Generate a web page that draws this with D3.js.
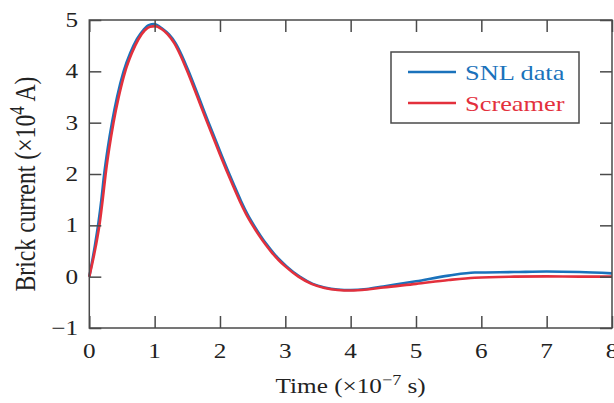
<!DOCTYPE html>
<html>
<head>
<meta charset="utf-8">
<script src="https://cdn.jsdelivr.net/npm/d3@7"></script>
<style>
  html, body { margin: 0; padding: 0; background: #fff; }
  svg { display: block; }
  text { font-family: "Liberation Serif", "Times New Roman", serif; fill: #222; }
</style>
</head>
<body>
<svg id="chart" width="614" height="403"></svg>
<script>
// Time axis in units of 1e-7 s, current in units of 1e4 A
const xTicks = [0, 1, 2, 3, 4, 5, 6, 7, 8];
const yTicks = [-1, 0, 1, 2, 3, 4, 5];

const snlTime = [0, 0.085, 0.14, 0.185, 0.228, 0.282, 0.347, 0.425, 0.525, 0.625, 0.73, 0.83, 0.91, 0.99,
  1.12, 1.22, 1.32, 1.42, 1.52, 1.62, 1.72, 1.82, 1.92, 2.02, 2.12, 2.22, 2.32, 2.42, 2.52, 2.62, 2.72,
  2.82, 2.92, 3.02, 3.22, 3.42, 3.6, 3.8, 4.0, 4.25, 4.5, 5.0, 5.5, 5.9, 6.5, 7.0, 7.5, 8.0];
const snlCurrent = [0, 0.6, 1.05, 1.5, 2.0, 2.5, 3.0, 3.5, 4.0, 4.35, 4.63, 4.81, 4.9, 4.92,
  4.83, 4.72, 4.55, 4.3, 4.0, 3.68, 3.35, 3.02, 2.7, 2.38, 2.07, 1.77, 1.48, 1.22, 1.0, 0.8, 0.62,
  0.46, 0.32, 0.2, 0.0, -0.14, -0.21, -0.25, -0.26, -0.24, -0.19, -0.09, 0.02, 0.08, 0.09, 0.1, 0.09, 0.065];

const scrTime = [0, 0.1, 0.16, 0.205, 0.25, 0.305, 0.37, 0.45, 0.55, 0.65, 0.75, 0.85, 0.93, 1.01,
  1.1, 1.2, 1.3, 1.4, 1.5, 1.6, 1.7, 1.8, 1.9, 2.0, 2.1, 2.2, 2.3, 2.4, 2.5, 2.6, 2.7,
  2.8, 2.9, 3.0, 3.2, 3.4, 3.6, 3.8, 4.0, 4.25, 4.5, 5.0, 5.5, 5.9, 6.5, 7.0, 7.5, 8.0];
const scrCurrent = [0, 0.6, 1.05, 1.5, 2.0, 2.5, 3.0, 3.5, 4.0, 4.35, 4.62, 4.8, 4.87, 4.88,
  4.83, 4.72, 4.55, 4.3, 4.0, 3.68, 3.35, 3.02, 2.7, 2.38, 2.07, 1.77, 1.48, 1.22, 1.0, 0.8, 0.62,
  0.46, 0.32, 0.2, 0.0, -0.14, -0.22, -0.26, -0.27, -0.25, -0.21, -0.14, -0.065, -0.02, 0.0, 0.005, 0.0, 0.0];

const seriesNames = ["SNL data", "Screamer"];
const seriesColors = ["#1a72bb", "#e3303c"];

const svg = d3.select("#chart");
const plotLeft = 89.3, plotRight = 612, plotTop = 20, plotBottom = 328;
const x = d3.scaleLinear().domain([0, 8]).range([plotLeft, plotRight]);
const y = d3.scaleLinear().domain([-1, 5]).range([plotBottom, plotTop]);
const sx = 1.2; // horizontal stretch for text glyphs
const axisColor = "#4a4a4a";
const tickLen = 12;

// curves
const line = d3.line().x(d => x(d[0])).y(d => y(d[1])).curve(d3.curveMonotoneX);
const series = [
  d3.zip(snlTime, snlCurrent),
  d3.zip(scrTime, scrCurrent)
];
svg.append("g").selectAll("path").data(series).join("path")
  .attr("d", line)
  .attr("fill", "none")
  .attr("stroke", (d, i) => seriesColors[i])
  .attr("stroke-width", 2.6)
  .attr("stroke-linejoin", "round");

// frame with inward ticks on all four sides
svg.append("rect")
  .attr("x", plotLeft).attr("y", plotTop)
  .attr("width", plotRight - plotLeft).attr("height", plotBottom - plotTop)
  .attr("fill", "none").attr("stroke", axisColor).attr("stroke-width", 1.5);

const gx = svg.append("g").attr("transform", `translate(0,${plotBottom})`)
  .call(d3.axisBottom(x).tickValues(xTicks).tickSizeInner(-tickLen).tickSizeOuter(0).tickFormat(""));
const gxTop = svg.append("g").attr("transform", `translate(0,${plotTop})`)
  .call(d3.axisTop(x).tickValues(xTicks).tickSizeInner(-tickLen).tickSizeOuter(0).tickFormat(""));
const gy = svg.append("g").attr("transform", `translate(${plotLeft},0)`)
  .call(d3.axisLeft(y).tickValues(yTicks).tickSizeInner(-tickLen).tickSizeOuter(0).tickFormat(""));
const gyRight = svg.append("g").attr("transform", `translate(${plotRight},0)`)
  .call(d3.axisRight(y).tickValues(yTicks).tickSizeInner(-tickLen).tickSizeOuter(0).tickFormat(""));
[gx, gxTop, gy, gyRight].forEach(g => {
  g.select(".domain").remove();
  g.selectAll(".tick line").attr("stroke", axisColor).attr("stroke-width", 1.5);
});

// tick labels
const fs = 21;
svg.append("g").selectAll("text").data(xTicks).join("text")
  .attr("transform", d => `translate(${x(d)},358) scale(${sx},1)`)
  .attr("text-anchor", "middle")
  .attr("font-size", fs)
  .text(d => d);
svg.append("g").selectAll("text").data(yTicks).join("text")
  .attr("transform", d => `translate(78,${y(d) + 7}) scale(${sx},1)`)
  .attr("text-anchor", "end")
  .attr("font-size", fs)
  .text(d => d < 0 ? "\u2212" + Math.abs(d) : d);

// x axis title
const xt = svg.append("text")
  .attr("transform", `translate(${(plotLeft + plotRight) / 2},393) scale(${sx},1)`)
  .attr("text-anchor", "middle")
  .attr("font-size", fs);
xt.append("tspan").text("Time (\u00d710");
xt.append("tspan").attr("font-size", fs * 0.72).attr("dy", -8).text("\u22127");
xt.append("tspan").attr("dy", 8).text(" s)");

// y axis title
const yfs = fs * 1.13;
const yt = svg.append("text")
  .attr("transform", `translate(35,184) scale(${sx},1) rotate(-90)`)
  .attr("text-anchor", "middle")
  .attr("font-size", yfs);
yt.append("tspan").text("Brick current (\u00d710");
yt.append("tspan").attr("font-size", yfs * 0.72).attr("dy", -9).text("4");
yt.append("tspan").attr("dy", 9).text(" A)");

// legend
const legend = svg.append("g");
legend.append("rect")
  .attr("x", 391).attr("y", 52).attr("width", 188).attr("height", 71)
  .attr("fill", "#fff").attr("stroke", axisColor).attr("stroke-width", 1.5);
const rows = legend.selectAll("g.row").data(seriesNames).join("g")
  .attr("class", "row")
  .attr("transform", (d, i) => `translate(0,${72 + i * 31})`);
rows.append("line")
  .attr("x1", 408).attr("x2", 456).attr("y1", 0).attr("y2", 0)
  .attr("stroke", (d, i) => seriesColors[i]).attr("stroke-width", 2.6);
rows.append("text")
  .attr("transform", `translate(465,8) scale(${sx},1)`)
  .attr("font-size", 22)
  .style("fill", (d, i) => seriesColors[i])
  .text(d => d);
</script>
</body>
</html>
